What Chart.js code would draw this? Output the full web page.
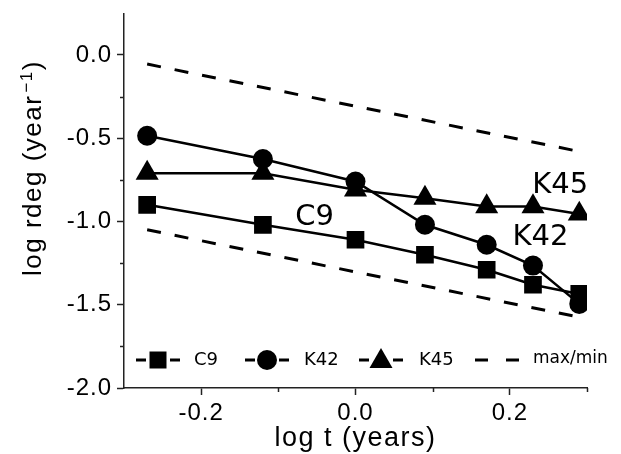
<!DOCTYPE html>
<html>
<head>
<meta charset="utf-8">
<script src="https://cdn.jsdelivr.net/npm/chart.js@4.4.1/dist/chart.umd.min.js"></script>
<style>
  html, body { margin: 0; padding: 0; background: #fff; overflow: hidden; }
  #cadre { width: 621px; height: 454px; position: relative; }
</style>
</head>
<body>
<div id="cadre"><canvas id="graphique"></canvas></div>
<script>
"use strict";

// valeurs
const logT = [-0.27, -0.12, 0.0, 0.09, 0.17, 0.23, 0.29];
const c9 = [-0.90, -1.02, -1.11, -1.20, -1.29, -1.38, -1.435];
const k42 = [-0.485, -0.625, -0.76, -1.02, -1.14, -1.265, -1.495];
const k45 = [-0.71, -0.71, -0.81, -0.86, -0.91, -0.91, -0.955];

// droites max/min
const borneX = [-0.27, 0.285];
const borneMax = [-0.055, -0.575];
const borneMin = [-1.05, -1.57];

const xTicks = [-0.2, 0.0, 0.2];
const xTickLabels = ["-0.2", "0.0", "0.2"];
const xMinor = [-0.1, 0.1, 0.3];
const yTicks = [-2.0, -1.5, -1.0, -0.5, 0.0];
const yTickLabels = ["-2.0", "-1.5", "-1.0", "-0.5", "0.0"];
const yMinor = [-1.75, -1.25, -0.75, -0.25];

const nomsLegende = ["C9", "K42", "K45", "max/min"];
const etiquettes = [
  { texte: "C9", x: -0.078, y: -1.024 },
  { texte: "K45", x: 0.229, y: -0.832 },
  { texte: "K42", x: 0.2035, y: -1.144 }
];

function points(xs, ys) {
  return xs.map((x, i) => ({ x: x, y: ys[i] }));
}

function dessinerMarqueur(ctx, style, x, y) {
  ctx.beginPath();
  if (style === "rect") {
    ctx.rect(x - 8.5, y - 8.5, 17, 17);
  } else if (style === "circle") {
    ctx.arc(x, y, 10, 0, Math.PI * 2);
  } else {
    ctx.moveTo(x, y - 12);
    ctx.lineTo(x + 11.5, y + 8);
    ctx.lineTo(x - 11.5, y + 8);
    ctx.closePath();
  }
  ctx.fill();
}

const espacement = {
  id: "espacement",
  beforeDraw(chart) { chart.ctx.letterSpacing = "1px"; },
  beforeDatasetsDraw(chart) { chart.ctx.letterSpacing = "0px"; }
};

const decor = {
  id: "decor",
  afterDraw(chart) {
    const ctx = chart.ctx;
    const sx = chart.scales.x;
    const sy = chart.scales.y;
    ctx.save();
    ctx.strokeStyle = "#222";
    ctx.lineWidth = 1.5;
    // petites graduations
    yMinor.forEach(v => {
      const py = Math.round(sy.getPixelForValue(v)) + 0.5;
      ctx.beginPath();
      ctx.moveTo(sx.left - 4, py);
      ctx.lineTo(sx.left, py);
      ctx.stroke();
    });
    xMinor.forEach(v => {
      const px = Math.round(sx.getPixelForValue(v)) + 0.5;
      ctx.beginPath();
      ctx.moveTo(px, sy.bottom);
      ctx.lineTo(px, sy.bottom + 4);
      ctx.stroke();
    });

    ctx.fillStyle = "#000";
    // titre de l'axe x
    ctx.letterSpacing = "1.5px";
    ctx.font = "27px 'Liberation Sans', Arial, sans-serif";
    ctx.textAlign = "center";
    ctx.textBaseline = "alphabetic";
    ctx.fillText("log t (years)", (sx.left + sx.right) / 2, 446);

    // titre de l'axe y, avec exposant
    const base = "log rdeg (year";
    const expo = "\u22121";
    const fin = ")";
    ctx.textAlign = "left";
    ctx.font = "26px 'Liberation Sans', Arial, sans-serif";
    const l1 = ctx.measureText(base).width;
    const l3 = ctx.measureText(fin).width;
    ctx.font = "17px 'Liberation Sans', Arial, sans-serif";
    const l2 = ctx.measureText(expo).width + 2;
    const total = l1 + l2 + l3;
    ctx.translate(41, 168);
    ctx.rotate(-Math.PI / 2);
    let pos = -total / 2;
    ctx.font = "26px 'Liberation Sans', Arial, sans-serif";
    ctx.fillText(base, pos, 0);
    pos += l1 + 2;
    ctx.font = "17px 'Liberation Sans', Arial, sans-serif";
    ctx.fillText(expo, pos, -9);
    pos += l2;
    ctx.font = "26px 'Liberation Sans', Arial, sans-serif";
    ctx.fillText(fin, pos - 2, 0);
    ctx.setTransform(1, 0, 0, 1, 0, 0);

    // etiquettes dans le graphique
    ctx.letterSpacing = "0px";
    ctx.font = "29px 'DejaVu Sans', sans-serif";
    ctx.textAlign = "left";
    etiquettes.forEach(e => {
      ctx.fillText(e.texte, sx.getPixelForValue(e.x), sy.getPixelForValue(e.y));
    });

    // legende
    const yl = 360;
    const styles = ["rect", "circle", "triangle"];
    const centres = [158, 267, 381];
    const textesX = [194, 304, 419, 533];
    ctx.lineWidth = 3;
    ctx.strokeStyle = "#000";
    ctx.font = "18px 'DejaVu Sans', sans-serif";
    ctx.textBaseline = "alphabetic";
    styles.forEach((st, i) => {
      ctx.beginPath();
      ctx.moveTo(centres[i] - 22, yl);
      ctx.lineTo(centres[i] - 12, yl);
      ctx.moveTo(centres[i] + 12, yl);
      ctx.lineTo(centres[i] + 22, yl);
      ctx.stroke();
      dessinerMarqueur(ctx, st, centres[i], yl);
      ctx.fillText(nomsLegende[i], textesX[i], yl + 5);
    });
    ctx.beginPath();
    ctx.moveTo(475, yl);
    ctx.lineTo(488, yl);
    ctx.moveTo(506, yl);
    ctx.lineTo(519, yl);
    ctx.stroke();
    ctx.font = "17px 'DejaVu Sans', sans-serif";
    ctx.fillText(nomsLegende[3], textesX[3], yl + 3);
    ctx.restore();
  }
};

const serie = (label, ys, style, rayon) => ({
  label: label,
  data: points(logT, ys),
  showLine: true,
  borderColor: "#000",
  borderWidth: 2.5,
  pointStyle: style,
  pointRadius: rayon,
  pointBackgroundColor: "#000",
  pointBorderWidth: 0
});

const borne = (label, ys) => ({
  label: label,
  data: points(borneX, ys),
  showLine: true,
  borderColor: "#000",
  borderWidth: 3,
  borderDash: [14, 14],
  pointRadius: 0
});

const ctx = document.getElementById("graphique");
let myChart = new Chart(ctx, {
  type: "scatter",
  data: {
    datasets: [
      serie("C9", c9, "rect", 12.5),
      serie("K42", k42, "circle", 10),
      serie("K45", k45, "triangle", 13.3),
      borne("max", borneMax),
      borne("min", borneMin)
    ]
  },
  options: {
    responsive: true,
    maintainAspectRatio: false,
    animation: false,
    events: [],
    layout: { padding: { top: 13, right: 34, left: 0, bottom: 0 } },
    plugins: { legend: { display: false }, tooltip: { enabled: false } },
    scales: {
      x: {
        type: "linear",
        min: -0.3,
        max: 0.3,
        afterBuildTicks: s => { s.ticks = xTicks.map(v => ({ value: v })); },
        afterFit: s => { s.height = 66; s.paddingLeft = 0; s.paddingRight = 0; },
        ticks: {
          callback: (v, i) => xTickLabels[i],
          color: "#000",
          padding: 4,
          maxRotation: 0,
          font: { family: "'Liberation Sans', Arial, sans-serif", size: 24 }
        },
        grid: { drawOnChartArea: false, tickLength: 7, tickColor: "#222", tickWidth: 1.5 },
        border: { color: "#222", width: 1.5 }
      },
      y: {
        min: -2.0,
        max: 0.25,
        afterBuildTicks: s => { s.ticks = yTicks.map(v => ({ value: v })); },
        afterFit: s => { s.width = 124; s.paddingTop = 0; s.paddingBottom = 0; },
        ticks: {
          callback: (v, i) => yTickLabels[i],
          color: "#000",
          padding: 5,
          font: { family: "'Liberation Sans', Arial, sans-serif", size: 24 }
        },
        grid: { drawOnChartArea: false, tickLength: 7, tickColor: "#222", tickWidth: 1.5 },
        border: { color: "#222", width: 1.5 }
      }
    }
  },
  plugins: [espacement, decor]
});
</script>
</body>
</html>
